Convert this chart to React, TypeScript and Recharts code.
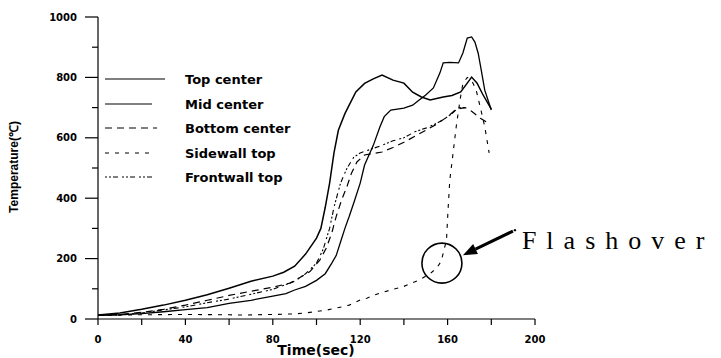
import React from 'react';
import { LineChart, Line, XAxis, YAxis, ReferenceDot } from 'recharts';

// ---- data (time in sec, temperature in °C) ----
const topTime = [0, 10, 20, 30, 40, 50, 60, 70, 80, 85, 90, 95, 100, 102, 104, 106, 108, 110, 113, 118, 122, 126, 130, 135, 140, 144, 148, 152, 158, 162, 166, 169, 171, 173.5, 176, 180];
const topTemp = [13, 20, 32, 46, 62, 80, 102, 125, 142, 155, 175, 215, 268, 300, 370, 450, 550, 625, 680, 752, 780, 795, 808, 791, 781, 751, 735, 725, 735, 740, 752, 781, 801, 781, 745, 695];

const midTime = [0, 10, 20, 30, 40, 50, 60, 70, 80, 86, 90, 95, 100, 104, 107, 109, 111, 113, 115, 117.5, 120, 122, 126, 129, 131, 134, 140, 144, 147, 150, 153.5, 156.5, 158, 161, 165, 167, 169, 171, 172.5, 174, 175.5, 177, 180];
const midTemp = [12, 14, 18, 24, 31, 38, 52, 62, 76, 84, 96, 108, 128, 150, 185, 210, 255, 300, 340, 394, 450, 510, 575, 636, 670, 692, 698, 708, 725, 742, 765, 815, 848, 850, 848, 881, 930, 934, 917, 880, 820, 758, 692];

const bottomTime = [0, 10, 20, 30, 40, 50, 60, 70, 80, 88, 93, 97, 101.5, 104.5, 107, 109, 111.5, 114, 116, 118.5, 122, 126, 130, 135, 140, 145, 150, 155, 160, 164, 168, 171, 175, 178.5];
const bottomTemp = [12, 15, 22, 32, 46, 62, 78, 92, 105, 119, 140, 157, 195, 235, 285, 339, 394, 440, 483, 520, 543, 548, 553, 568, 585, 605, 625, 645, 670, 695, 700, 688, 665, 649];

const sideTime = [0, 20, 40, 60, 65, 80, 90, 95, 100, 105, 109, 115, 120, 123, 129, 135, 140, 147, 152, 155, 157, 158, 159.5, 160.2, 161, 162.5, 164, 165.7, 167, 169, 171, 173, 175, 177, 179];
const sideTemp = [12, 14, 15, 14, 13, 15, 17, 20, 25, 30, 36, 46, 63, 69, 86, 98, 108, 129, 150, 169, 190, 218, 262, 361, 460, 549, 640, 725, 780, 800, 790, 760, 700, 637, 550];

const frontTime = [0, 10, 20, 30, 40, 50, 60, 70, 80, 90, 95, 100, 103, 106, 108, 111, 114, 117, 120, 124, 130, 135, 140, 145, 150, 155, 158, 162, 165, 168];
const frontTemp = [12, 14, 20, 30, 40, 54, 66, 82, 98, 125, 150, 185, 230, 300, 370, 450, 500, 535, 550, 560, 575, 590, 600, 620, 632, 648, 660, 680, 700, 700];

const seriesNames = ['Top center', 'Mid center', 'Bottom center', 'Sidewall top', 'Frontwall top'];
const xTicks = [0, 20, 40, 60, 80, 100, 120, 140, 160, 180, 200];
const yTicks = [0, 100, 200, 300, 400, 500, 600, 700, 800, 900, 1000];
const flashoverPoint = { t: 157.4, v: 185 };

const toPoints = (ts: number[], vs: number[]) => ts.map((t, i) => ({ t, v: vs[i] }));

const series = [
  { name: seriesNames[0], data: toPoints(topTime, topTemp), dash: undefined, width: 1.5 },
  { name: seriesNames[1], data: toPoints(midTime, midTemp), dash: undefined, width: 1.3 },
  { name: seriesNames[2], data: toPoints(bottomTime, bottomTemp), dash: '7 5', width: 1.2 },
  { name: seriesNames[3], data: toPoints(sideTime, sideTemp), dash: '4 6', width: 1.1 },
  { name: seriesNames[4], data: toPoints(frontTime, frontTemp), dash: '2 2 2 2 5 4', width: 1.1 },
];

const FONT = '"DejaVu Sans", Arial, sans-serif';

const YTick = (props: any) => {
  const { x, y, payload } = props;
  const major = payload.value % 200 === 0;
  return (
    <g>
      <line x1={x - (major ? 13 : 6)} x2={x} y1={y} y2={y} stroke="#000" strokeWidth={1.2} />
      {major && (
        <text x={x - 21} y={y} dy={3.5} textAnchor="end" fontFamily={FONT} fontWeight="bold" fontSize={10} fill="#000">
          {payload.value}
        </text>
      )}
    </g>
  );
};

const XTick = (props: any) => {
  const { x, y, payload } = props;
  const major = payload.value % 40 === 0;
  return (
    <g>
      <line x1={x} x2={x} y1={y} y2={y + 6} stroke="#000" strokeWidth={1.2} />
      {major && (
        <text x={x} y={y + 24} textAnchor="middle" fontFamily={FONT} fontWeight="bold" fontSize={10} fill="#000">
          {payload.value}
        </text>
      )}
    </g>
  );
};

const FlashoverMark = (props: any) => {
  const { cx, cy } = props;
  const tail = { x: cx + 71, y: cy - 32 };
  const tip = { x: cx + 21, y: cy - 8 };
  const dx = tip.x - tail.x;
  const dy = tip.y - tail.y;
  const len = Math.sqrt(dx * dx + dy * dy);
  const ux = dx / len;
  const uy = dy / len;
  const bx = tip.x - ux * 14;
  const by = tip.y - uy * 14;
  const px = -uy;
  const py = ux;
  return (
    <g>
      <circle cx={cx} cy={cy} r={20} fill="none" stroke="#000" strokeWidth={1.6} />
      <line x1={tail.x} y1={tail.y} x2={bx} y2={by} stroke="#000" strokeWidth={3} />
      <polygon
        points={`${tip.x},${tip.y} ${bx + px * 5.5},${by + py * 5.5} ${bx - px * 5.5},${by - py * 5.5}`}
        fill="#000"
      />
      <circle cx={tail.x + 2} cy={tail.y - 1} r={1.2} fill="#000" />
      <text x={cx + 80} y={cy - 14} fontFamily='"Liberation Serif", "Times New Roman", serif' fontSize={26} letterSpacing={10} fill="#000">
        Flashover
      </text>
    </g>
  );
};

const legendRows = [
  { y: 79, x2: 165 },
  { y: 104, x2: 152 },
  { y: 128, x2: 157 },
  { y: 153, x2: 150 },
  { y: 177, x2: 155 },
];

export default function App() {
  return (
    <div style={{ position: 'absolute', left: 0, top: 0, width: 721, height: 358, background: '#fff' }}>
      <LineChart width={721} height={358} margin={{ top: 17, right: 186, bottom: 9, left: 38 }}>
        <XAxis
          dataKey="t"
          type="number"
          domain={[0, 200]}
          ticks={xTicks}
          interval={0}
          height={30}
          tickSize={0}
          tickMargin={0}
          tickLine={false}
          axisLine={{ stroke: '#000', strokeWidth: 1.2 }}
          tick={<XTick />}
          label={(p: any) => (
            <text x={316} y={355} textAnchor="middle" fontFamily={FONT} fontWeight="bold" fontSize={14} fill="#000">
              Time(sec)
            </text>
          )}
        />
        <YAxis
          type="number"
          domain={[0, 1000]}
          ticks={yTicks}
          interval={0}
          width={60}
          tickSize={0}
          tickMargin={0}
          tickLine={false}
          axisLine={{ stroke: '#000', strokeWidth: 1.2 }}
          tick={<YTick />}
          label={(p: any) => (
            <text
              x={14}
              y={167}
              transform="rotate(-90 14 167)"
              textAnchor="middle"
              dominantBaseline="central"
              fontFamily='"Liberation Sans", Arial, sans-serif'
              fontWeight="bold"
              fontSize={12}
              fill="#000"
            >
              Temperature(℃)
            </text>
          )}
        />
        {series.map((s) => (
          <Line
            key={s.name}
            name={s.name}
            data={s.data}
            dataKey="v"
            type="linear"
            stroke="#000"
            strokeWidth={s.width}
            strokeDasharray={s.dash}
            dot={false}
            activeDot={false}
            isAnimationActive={false}
          />
        ))}
        <ReferenceDot x={flashoverPoint.t} y={flashoverPoint.v} r={20} shape={<FlashoverMark />} />
      </LineChart>
      <svg width={320} height={200} style={{ position: 'absolute', left: 0, top: 0, pointerEvents: 'none' }}>
        {series.map((s, i) => (
          <g key={s.name}>
            <line
              x1={105}
              x2={legendRows[i].x2}
              y1={legendRows[i].y}
              y2={legendRows[i].y}
              stroke="#000"
              strokeWidth={i < 2 ? 1.1 : 1.2}
              strokeDasharray={s.dash}
            />
            <text x={185} y={legendRows[i].y + 4.5} fontFamily={FONT} fontWeight="bold" fontSize={13} fill="#000">
              {s.name}
            </text>
          </g>
        ))}
      </svg>
    </div>
  );
}
